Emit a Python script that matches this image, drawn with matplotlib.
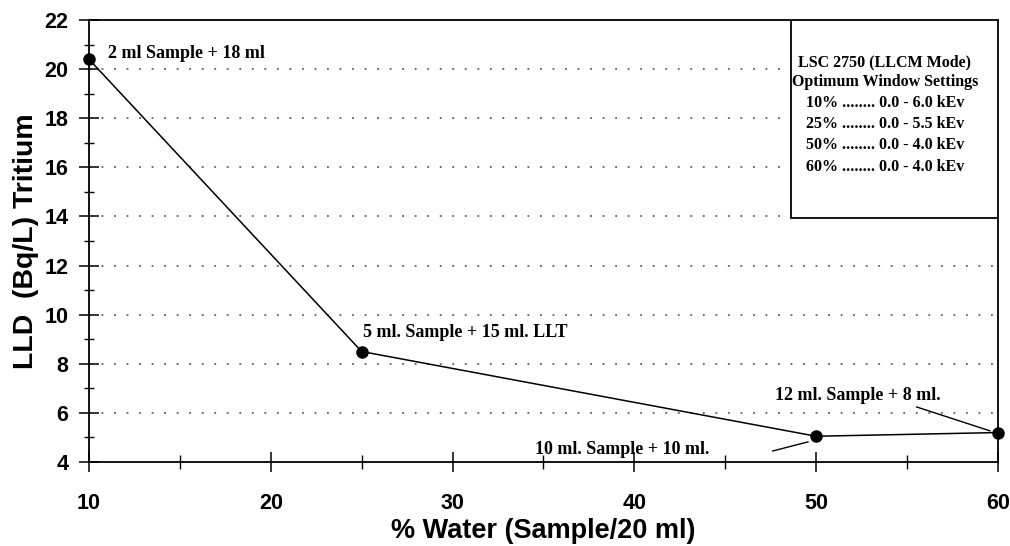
import matplotlib
matplotlib.use("Agg")
import matplotlib.pyplot as plt
from matplotlib.ticker import MultipleLocator

# Percent water in the cocktail and the resulting lower limit of detection
water_pct = [10, 25, 50, 60]
lld = [20.4, 8.5, 5.05, 5.2]

x_ticks = [10, 20, 30, 40, 50, 60]
y_ticks = [4, 6, 8, 10, 12, 14, 16, 18, 20, 22]

settings_title = ["LSC 2750 (LLCM Mode)", "Optimum Window Settings"]
settings_rows = [
    "10% ........ 0.0 - 6.0 kEv",
    "25% ........ 0.0 - 5.5 kEv",
    "50% ........ 0.0 - 4.0 kEv",
    "60% ........ 0.0 - 4.0 kEv",
]

fig = plt.figure(figsize=(10.10, 5.46), dpi=100)
ax = fig.add_axes([0.0881, 0.1538, 0.8999, 0.8096])

ax.plot(water_pct, lld, color="black", lw=1.1, marker="o", markersize=8,
        markerfacecolor="black", zorder=5, clip_on=False)

ax.set_xlim(10, 60)
ax.set_ylim(4, 22)
ax.set_xticks(x_ticks)
ax.set_yticks(y_ticks)
ax.xaxis.set_minor_locator(MultipleLocator(5))
ax.yaxis.set_minor_locator(MultipleLocator(1))

for y in y_ticks[1:-1]:
    ax.axhline(y, color="#444444", lw=1.1, linestyle=(0, (1.2, 7)), zorder=1)

for s in ax.spines.values():
    s.set_linewidth(1.3)

ax.tick_params(axis="both", which="major", direction="inout", length=14, width=1.1)
ax.tick_params(axis="x", which="minor", direction="inout", length=9.5, width=1.0)
ax.tick_params(axis="y", which="minor", direction="inout", length=6.5, width=1.0)
ax.tick_params(axis="y", which="major", pad=8)
ax.tick_params(axis="x", which="major", pad=15)
for lab in ax.get_xticklabels() + ax.get_yticklabels():
    lab.set_fontfamily("Liberation Sans")
    lab.set_fontweight("bold")
    lab.set_fontsize(15.5)

ax.set_xlabel("% Water (Sample/20 ml)", fontfamily="Liberation Sans",
              fontweight="bold", fontsize=19.5, labelpad=3)
ax.set_ylabel("LLD  (Bq/L) Tritium", fontfamily="Liberation Sans",
              fontweight="bold", fontsize=20.5, labelpad=4)

serif = dict(fontfamily="Liberation Serif", fontweight="bold", fontsize=13,
             color="black", va="center", ha="left")
ax.text(11.05, 20.65, "2 ml Sample + 18 ml", **serif)
ax.text(25.07, 9.27, "5 ml. Sample + 15 ml. LLT", **serif)
ax.text(47.73, 6.69, "12 ml. Sample + 8 ml.", **serif)
ax.text(34.53, 4.53, "10 ml. Sample + 10 ml.", **serif)

# leader lines from the labels to their points
ax.plot([55.54, 59.56], [6.24, 5.27], color="black", lw=1.0)
ax.plot([47.62, 49.55], [4.45, 4.82], color="black", lw=1.0)

# window-settings box in the upper right corner
box_x0 = (791 - 89) / 909
box_y0 = (462 - 219) / 441
ax.add_patch(plt.Rectangle((box_x0, box_y0), 1 - box_x0, 1 - box_y0,
                           transform=ax.transAxes, facecolor="white",
                           edgecolor="black", lw=1.3, zorder=6))
box_font = dict(fontfamily="Liberation Serif", fontweight="bold", fontsize=11.5,
                color="black", va="center", transform=ax.transAxes, zorder=7)
title_cx = (885 - 89) / 909
title_y = [(462 - 63) / 441, (462 - 83) / 441]
for t, yy in zip(settings_title, title_y):
    ax.text(title_cx, yy, t, ha="center", **box_font)
row_x = (806 - 89) / 909
for i, r in enumerate(settings_rows):
    yy = (462 - (103.5 + 21.3 * i)) / 441
    ax.text(row_x, yy, r, ha="left", **box_font)

fig.savefig("out.png", dpi=100)
